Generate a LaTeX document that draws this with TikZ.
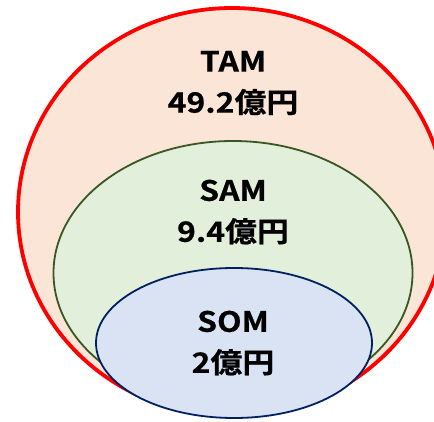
\documentclass[tikz,border=0pt]{standalone}
\usepackage{fontspec}
\newfontfamily\lblfont{Noto Sans CJK JP Bold}[FakeStretch=1.14, FakeBold=0.6]
\usetikzlibrary{shapes.geometric}
\definecolor{tamfill}{HTML}{FBE5D6}
\definecolor{samfill}{HTML}{E2EFDA}
\definecolor{samline}{HTML}{385723}
\definecolor{somfill}{HTML}{DAE3F3}
\definecolor{somline}{HTML}{002060}
\tikzset{
  mkt/.style={ellipse, inner sep=0pt},
  lbl/.style={align=center, font=\lblfont\fontsize{28}{41}\selectfont, text=black, inner sep=0pt}
}
\begin{document}
\begin{tikzpicture}[x=1pt,y=-1pt]
\useasboundingbox (0,0) rectangle (434,422);
\clip (0,0) rectangle (434,422);
\node[mkt, draw=red, line width=3.8pt, fill=tamfill, minimum width=428pt, minimum height=408pt] (tam) at (232,212) {};
\node[mkt, draw=samline, line width=1.8pt, fill=samfill, minimum width=359pt, minimum height=264pt] (sam) at (233,273) {};
\node[mkt, draw=somline, line width=1.8pt, fill=somfill, minimum width=276pt, minimum height=150pt] (som) at (234,343) {};
\node[lbl] (tamt) at (233,83) {TAM\\49.2億円};
\node[lbl] (samt) at (233,212) {SAM\\9.4億円};
\node[lbl] (somt) at (233,343) {SOM\\2億円};
\end{tikzpicture}
\end{document}
